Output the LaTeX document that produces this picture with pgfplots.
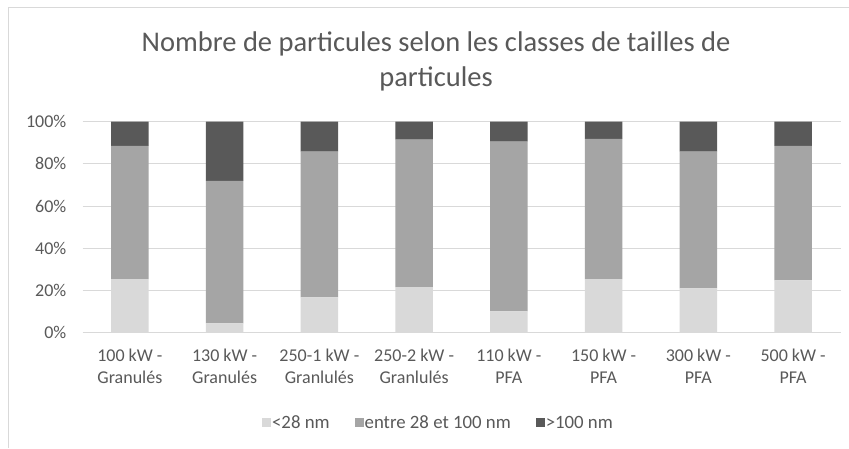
\documentclass[border=0pt]{standalone}
\usepackage{pgfplots}
\pgfplotsset{compat=1.18}
\usepackage{fontspec}
\setmainfont{Carlito}
\definecolor{cLight}{HTML}{D9D9D9}
\definecolor{cMid}{HTML}{A5A5A5}
\definecolor{cDark}{HTML}{595959}
\definecolor{cText}{HTML}{595959}
\definecolor{cGrid}{HTML}{D9D9D9}
\pgfplotstableread{
x low mid high
0 25.4 63.2 11.4
1 4.4 67.6 28.0
2 16.7 69.1 14.2
3 21.6 69.9 8.5
4 10.1 80.4 9.5
5 25.4 66.5 8.1
6 21.0 64.8 14.2
7 24.8 63.8 11.4
}\datatable
\begin{document}
\begin{tikzpicture}[x=1pt,y=1pt]
\path[use as bounding box] (0,0) rectangle (849,448);
\fill[white] (0,0) rectangle (849,448);
\draw[cGrid, line width=1.2pt] (8.7,0) -- (8.7,440.7) -- (849,440.7);
\node[font=\fontsize{28.5}{34.5}\selectfont, text=cText, align=center, anchor=base] at (436,361.5)
  {Nombre de particules selon les classes de tailles de\\particules};
\begin{axis}[
  at={(82.5pt,115.3pt)}, anchor=south west,
  width=758pt, height=211pt, scale only axis,
  ybar stacked, bar width=37.6pt,
  xmin=-0.5, xmax=7.5, ymin=0, ymax=100,
  xtick=data,
  xticklabels={{100 kW -\\Granulés},{130 kW -\\Granulés},{250-1 kW -\\Granlulés},{250-2 kW -\\Granlulés},{110 kW -\\PFA},{150 kW -\\PFA},{300 kW -\\PFA},{500 kW -\\PFA}},
  ytick={0,20,40,60,80,100},
  yticklabel={\pgfmathprintnumber{\tick}\%},
  /pgf/number format/assume math mode=true,
  ymajorgrids, major grid style={cGrid, line width=1pt},
  axis line style={draw=none},
  major tick length=0pt,
  tick style={draw=none},
  ticklabel style={font=\fontsize{18}{22.3}\selectfont, text=cText},
  xticklabel style={align=center, inner sep=0pt, anchor=north, yshift=-16pt},
  yticklabel style={inner sep=0pt, anchor=east, xshift=-16pt},
  legend columns=3,
  legend style={at={(0.469,-0.4265)}, anchor=center, draw=none, fill=none,
    font=\fontsize{18.8}{22}\selectfont, text=cText,
    /tikz/every even column/.append style={column sep=24pt},
    nodes={inner sep=1pt}},
  legend image code/.code={\fill[#1] (0pt,-4.5pt) rectangle (9pt,4.5pt);},
  clip=false,
]
\addplot[fill=cLight, draw=none] table[x=x, y=low] {\datatable};
\addplot[fill=cMid, draw=none] table[x=x, y=mid] {\datatable};
\addplot[fill=cDark, draw=none] table[x=x, y=high] {\datatable};
\legend{<28 nm, entre 28 et 100 nm, >100 nm}
\end{axis}
\end{tikzpicture}
\end{document}
